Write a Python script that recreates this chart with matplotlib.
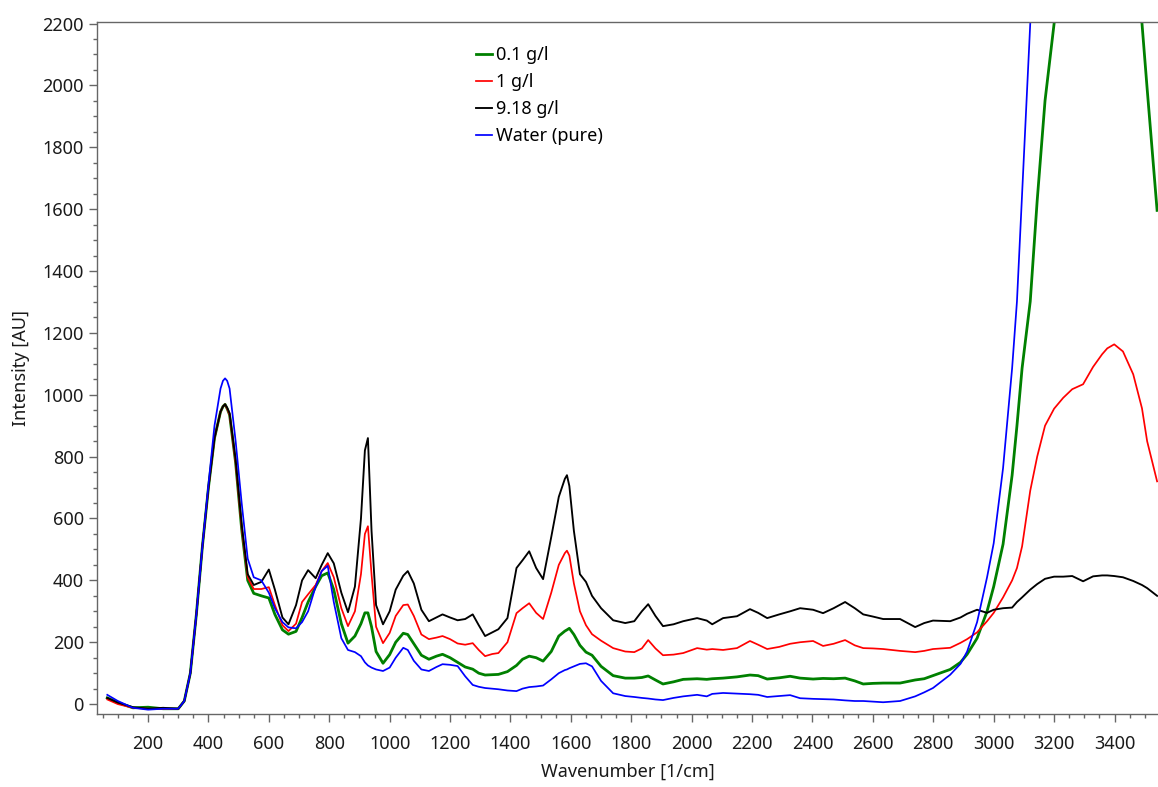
import numpy as np
import matplotlib
matplotlib.use("Agg")
import matplotlib.pyplot as plt
from matplotlib.ticker import MultipleLocator

# =========================================
# DATA
# =========================================
wavenumber = [65, 100, 150, 200, 250, 300, 320, 340, 360, 380, 400, 420, 440, 448, 455, 462, 470, 490,
              510, 530, 550, 575, 600, 620, 645, 665, 690, 710, 730, 755, 775, 795, 815, 840,
              862, 885, 905, 918, 928, 940, 955, 978, 1000, 1020, 1045, 1060, 1080, 1105, 1130,
              1155, 1175, 1200, 1225, 1250, 1275, 1295, 1316, 1340, 1360, 1390, 1420, 1440, 1462,
              1485, 1508, 1535, 1560, 1580, 1587, 1595, 1610, 1630, 1650, 1670, 1700, 1740, 1780, 1810, 1835,
              1856, 1880, 1905, 1940, 1972, 2018, 2050, 2068, 2104, 2150, 2193, 2220, 2250, 2290,
              2326, 2359, 2402, 2435, 2470, 2508, 2540, 2568, 2600, 2634, 2690, 2740, 2770, 2799,
              2856, 2890, 2912, 2945, 2978, 3000, 3031, 3061, 3077, 3094, 3121, 3144, 3170, 3200,
              3230, 3260, 3296, 3329, 3359, 3376, 3399, 3428, 3462, 3491, 3508, 3541]

green_01 = [20, 5, -12, -10, -15, -15, 10, 100, 290, 510, 700, 860, 945, 962, 969, 955, 935, 780,
            565, 400, 358, 350, 343, 290, 240, 226, 235, 280, 330, 380, 415, 424, 370, 260,
            197, 220, 260, 295, 295, 250, 170, 132, 160, 200, 229, 225, 195, 158, 145,
            155, 161, 150, 135, 120, 113, 100, 94, 95, 96, 105, 125, 145, 155,
            150, 139, 170, 220, 236, 240, 245, 225, 190, 168, 158, 122, 92, 84, 84, 86,
            91, 78, 65, 72, 80, 82, 80, 82, 84, 88, 94, 92, 81, 85,
            90, 84, 81, 83, 82, 84, 75, 65, 67, 68, 68, 78, 82, 92,
            112, 135, 161, 213, 300, 380, 517, 740, 900, 1086, 1302, 1628, 1951, 2200,
            2500, 2750, 2950, 3050, 3050, 3000, 2900, 2750, 2500, 2200, 1990, 1596]

red_1 = [15, 0, -12, -15, -15, -15, 10, 100, 290, 510, 700, 860, 945, 962, 969, 955, 935, 780,
         570, 410, 372, 372, 378, 320, 255, 236, 260, 330, 355, 385, 430, 456, 410, 310,
         252, 300, 420, 550, 575, 420, 250, 197, 230, 285, 320, 322, 285, 225, 210,
         215, 220, 210, 196, 192, 197, 175, 155, 162, 165, 200, 294, 310, 326,
         295, 275, 360, 450, 488, 496, 480, 390, 300, 255, 226, 205, 181, 170, 168, 180,
         207, 180, 158, 160, 165, 181, 176, 178, 175, 181, 204, 192, 178, 185,
         195, 200, 204, 188, 195, 207, 190, 181, 180, 178, 172, 168, 172, 178,
         182, 198, 210, 232, 268, 295, 345, 400, 440, 510, 690, 800, 900, 955,
         990, 1018, 1034, 1090, 1131, 1150, 1163, 1140, 1066, 956, 850, 720]

black_918 = [20, 5, -10, -15, -12, -15, 10, 100, 290, 510, 700, 860, 945, 962, 969, 958, 940, 790,
             580, 420, 385, 395, 435, 370, 280, 258, 320, 400, 433, 407, 450, 488, 455, 360,
             297, 380, 600, 820, 860, 560, 320, 258, 300, 370, 415, 430, 390, 305, 268,
             280, 290, 280, 271, 275, 290, 255, 220, 232, 242, 278, 440, 465, 494,
             440, 404, 540, 670, 728, 740, 705, 560, 420, 395, 350, 310, 271, 262, 268, 300,
             323, 285, 252, 258, 268, 278, 270, 258, 278, 284, 307, 295, 278, 290,
             300, 310, 305, 294, 310, 330, 310, 290, 283, 275, 275, 249, 262, 270,
             268, 280, 292, 305, 295, 305, 310, 312, 330, 345, 370, 388, 405, 412,
             412, 414, 397, 413, 416, 416, 414, 410, 398, 385, 375, 350]

water = [30, 10, -12, -18, -15, -15, 10, 100, 290, 510, 710, 900, 1020, 1045, 1053, 1045, 1020, 850,
         650, 470, 410, 400, 360, 310, 265, 248, 245, 265, 300, 380, 430, 447, 330, 213,
         175, 168, 155, 135, 125, 118, 112, 107, 118, 150, 182, 175, 140, 112, 107,
         120, 129, 127, 123, 90, 62, 56, 52, 50, 48, 44, 42, 50, 55,
         57, 60, 80, 100, 110, 112, 116, 122, 130, 132, 122, 75, 35, 26, 23, 20,
         18, 15, 13, 20, 25, 30, 25, 33, 36, 34, 32, 30, 23, 26,
         29, 19, 17, 16, 15, 12, 10, 10, 8, 6, 10, 25, 38, 52,
         95, 130, 170, 265, 410, 520, 763, 1086, 1302, 1650, 2200, 2600, 3000, 3400,
         3800, 4100, 4300, 4400, 4400, 4350, 4300, 4200, 4000, 3800, 3700, 3500]

labels = ["0.1 g/l", "1 g/l", "9.18 g/l", "Water (pure)"]
colors = ["#008000", "#ff0000", "#000000", "#0000ff"]

# =========================================
# PLOT
# =========================================
plt.rcParams['font.family'] = ['Noto Sans', 'DejaVu Sans']

fig = plt.figure(figsize=(11.58, 7.87), dpi=100)
ax = fig.add_axes([97 / 1158, 1 - 714 / 787, 1 - 97 / 1158, (714 - 22) / 787])

series = [green_01, red_1, black_918, water]
widths = [2.0, 1.25, 1.35, 1.25]
for y, lab, c, lw in zip(series, labels, colors, widths):
    ax.plot(wavenumber, y, color=c, lw=lw, label=lab, solid_joinstyle='round')

ax.set_xlim(31, 3544)
ax.set_ylim(-32, 2205)
ax.set_xticks(np.arange(200, 3401, 200))
ax.xaxis.set_minor_locator(MultipleLocator(50))
ax.yaxis.set_major_locator(MultipleLocator(200))
ax.yaxis.set_minor_locator(MultipleLocator(50))

for side in ['left', 'bottom', 'top']:
    ax.spines[side].set_color('#666666')
    ax.spines[side].set_linewidth(1.0)
ax.spines['right'].set_visible(False)

ax.tick_params(which='major', length=6, width=1, color='#666666', labelsize=13, labelcolor='#1a1a1a')
ax.tick_params(which='minor', length=3, width=1, color='#666666')
ax.tick_params(axis='x', which='major', pad=9)

ax.set_xlabel('Wavenumber [1/cm]', fontsize=13, color='#1a1a1a', labelpad=7)
ax.set_ylabel('Intensity [AU]', fontsize=13, color='#1a1a1a', labelpad=9)

fig.legend(loc='upper left', bbox_to_anchor=(476 / 1158, 1 - 46 / 787), frameon=False,
           fontsize=13, handlelength=0.9, handletextpad=0.2, labelspacing=0.5,
           borderaxespad=0, borderpad=0)

fig.savefig('out.png', dpi=100)
